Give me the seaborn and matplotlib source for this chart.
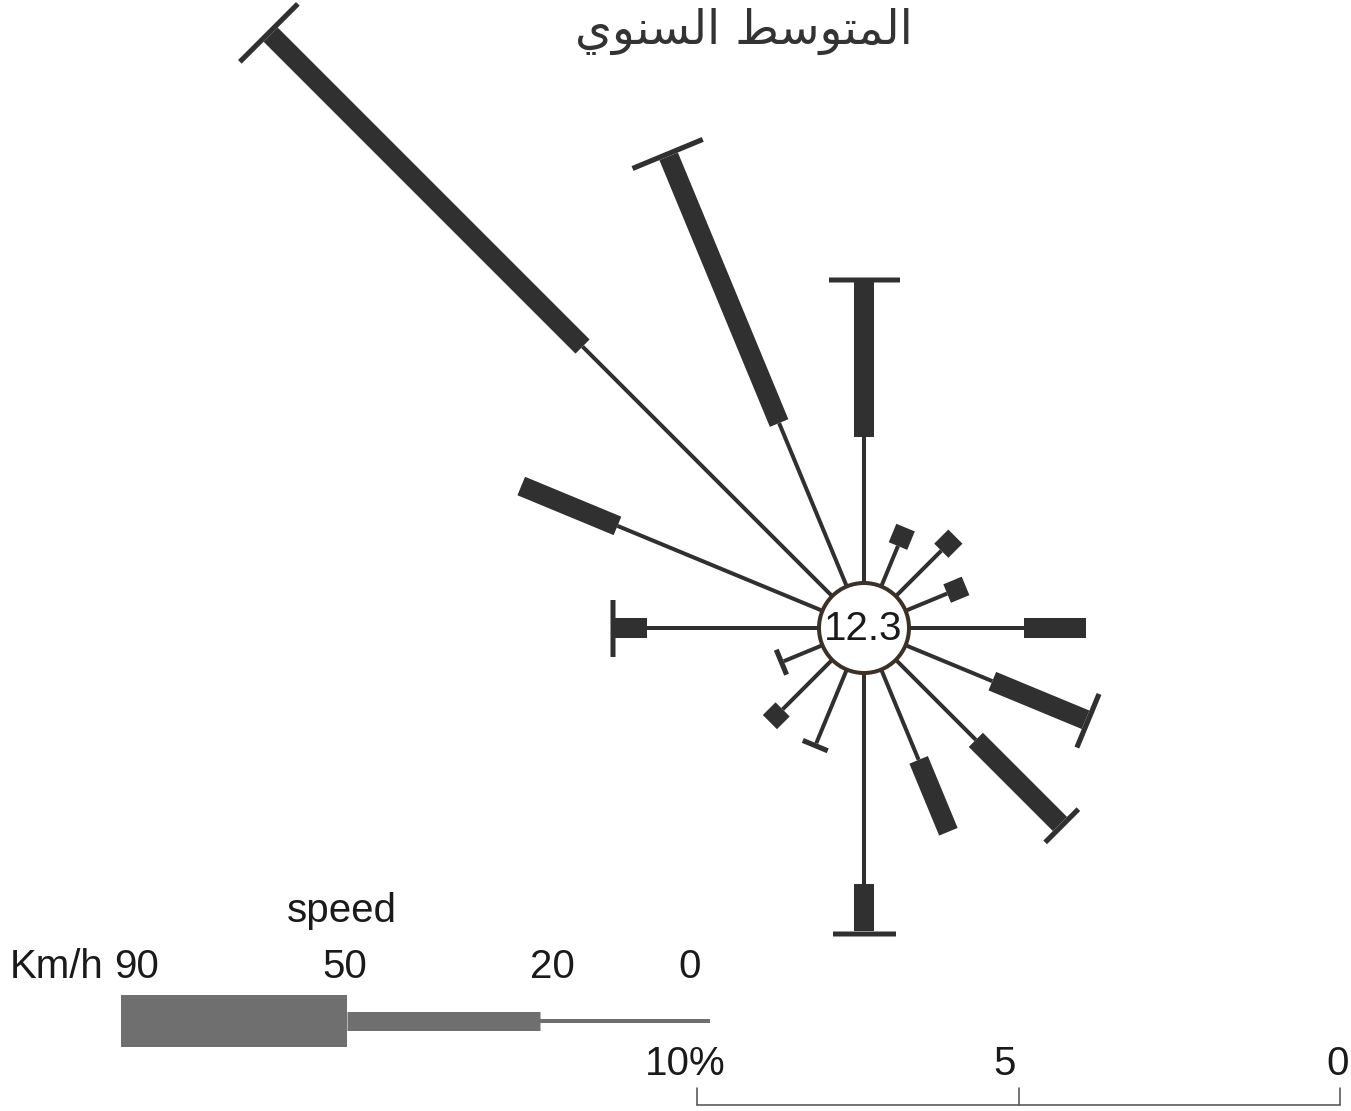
import numpy as np
import pandas as pd
import matplotlib
matplotlib.use("Agg")
import matplotlib.pyplot as plt
import seaborn as sns

# ---------- data ----------
directions = ["N", "NNE", "NE", "ENE", "E", "ESE", "SE", "SSE",
              "S", "SSW", "SW", "WSW", "W", "WNW", "NW", "NNW"]
# frequency (%) of each speed class per direction
pct_0_20 = [2.27, 0.68, 1.00, 0.70, 1.79, 1.46, 1.76, 1.52,
            3.28, 1.24, 1.09, 0.65, 2.67, 3.45, 5.49, 2.75]
pct_20_50 = [2.41, 0.31, 0.31, 0.31, 0.96, 1.57, 1.85, 1.21,
             0.73, 0.00, 0.28, 0.00, 0.50, 1.62, 6.86, 4.49]
pct_50_90 = [0.08, 0.00, 0.00, 0.00, 0.00, 0.08, 0.08, 0.00,
             0.08, 0.08, 0.00, 0.08, 0.08, 0.00, 0.08, 0.08]
cap_span = [71, 0, 0, 0, 0, 58, 47, 0, 63, 27, 0, 27, 57, 0, 82, 76]
calm = 12.3

speed_labels = ["90", "50", "20", "0"]
scale_ticks = [10, 5, 0]

# ---------- layout ----------
DPI = 100
W, H = 1351, 1111
CX, CY = 864, 628      # rose centre (px)
R0 = 45                # calm circle radius (px)
PX = 64.3              # px per 1 %
INK = "#303030"
GREY = "#6f6f6f"


def pt(px):
    return px * 72 / DPI


sns.set_theme(style="white")
plt.rcParams["font.family"] = ["Liberation Sans", "DejaVu Sans"]

fig = plt.figure(figsize=(W / DPI, H / DPI), dpi=DPI)
ax = fig.add_axes([0, 0, 1, 1])

theta = np.deg2rad(np.arange(len(directions)) * 22.5)
ux, uy = np.sin(theta), -np.cos(theta)

r1 = R0 + np.array(pct_0_20) * PX
r2 = r1 + np.array(pct_20_50) * PX
r3 = r2 + np.array(pct_50_90) * PX


def segments(ra, rb, keep):
    rows = []
    for i, d in enumerate(directions):
        if not keep[i]:
            continue
        for r in (ra[i], rb[i]):
            rows.append({"dir": d, "x": CX + ux[i] * r, "y": CY + uy[i] * r})
    return pd.DataFrame(rows)


thin = segments(np.zeros(len(directions)), r1, [True] * len(directions))
mid = segments(r1, r2, [v > 0 for v in pct_20_50])

sns.lineplot(data=thin, x="x", y="y", units="dir", estimator=None, sort=False,
             color=INK, lw=pt(4), solid_capstyle="butt", ax=ax, legend=False)
sns.lineplot(data=mid, x="x", y="y", units="dir", estimator=None, sort=False,
             color=INK, lw=pt(20), solid_capstyle="butt", ax=ax, legend=False)

# top class: very short, wide bars (the "T" caps)
for i in range(len(directions)):
    if pct_50_90[i] > 0:
        ax.plot([CX + ux[i] * r2[i], CX + ux[i] * r3[i]],
                [CY + uy[i] * r2[i], CY + uy[i] * r3[i]],
                color=INK, lw=pt(cap_span[i]), solid_capstyle="butt")
ax.set_xlim(0, W)
ax.set_ylim(H, 0)
ax.axis("off")

# calm circle
ax.add_patch(plt.Circle((CX, CY), R0, facecolor="white", edgecolor="#3a3128",
                        lw=pt(4), zorder=5))
ax.text(CX - 1, CY + 1, f"{calm}", ha="center", va="center", fontsize=29,
        color="#1a1a1a", zorder=6)

# title (Arabic, pre-shaped presentation forms, visual order)
word1 = "\uFE8D\uFEDF\uFEE4\uFE98\uFEEE\uFEB3\uFEC2"   # المتوسط
word2 = "\uFE8D\uFEDF\uFEB4\uFEE8\uFEEE\uFEF1"         # السنوي
title = (word1 + " " + word2)[::-1]
ax.text(744, 44, title, ha="center", va="baseline", fontsize=34,
        family=["DejaVu Sans"], color="#333333")

# ---------- speed legend ----------
leg_y = 1021
leg_x = [121, 347, 540, 710]          # 90, 50, 20, 0 km/h
leg_w = [52, 19, 4]
for k in range(3):
    ax.plot([leg_x[k], leg_x[k + 1]], [leg_y, leg_y], color=GREY,
            lw=pt(leg_w[k]), solid_capstyle="butt")
label_x = [137, 345, 552, 690]
for lx, s in zip(label_x, speed_labels):
    ax.text(lx, 967, s, ha="center", va="center", fontsize=29, color="#1a1a1a")
ax.text(10, 967, "Km/h", ha="left", va="center", fontsize=29, color="#1a1a1a")
ax.text(342, 911, "speed", ha="center", va="center", fontsize=29, color="#1a1a1a")

# ---------- frequency scale ----------
x0 = 1340
sx = [x0 - t * PX for t in scale_ticks]
ax.plot([sx[0], sx[-1]], [1105, 1105], color="#555555", lw=pt(1.6))
label_shift = {10: -12, 5: -14, 0: -2}
for x, t in zip(sx, scale_ticks):
    ax.plot([x, x], [1088, 1105], color="#555555", lw=pt(1.6))
    lab = f"{t}%" if t == scale_ticks[0] else f"{t}"
    ax.text(x + label_shift[t], 1064, lab,
            ha="center", va="center", fontsize=29, color="#1a1a1a")

fig.savefig("out.png", dpi=DPI, facecolor="white")
